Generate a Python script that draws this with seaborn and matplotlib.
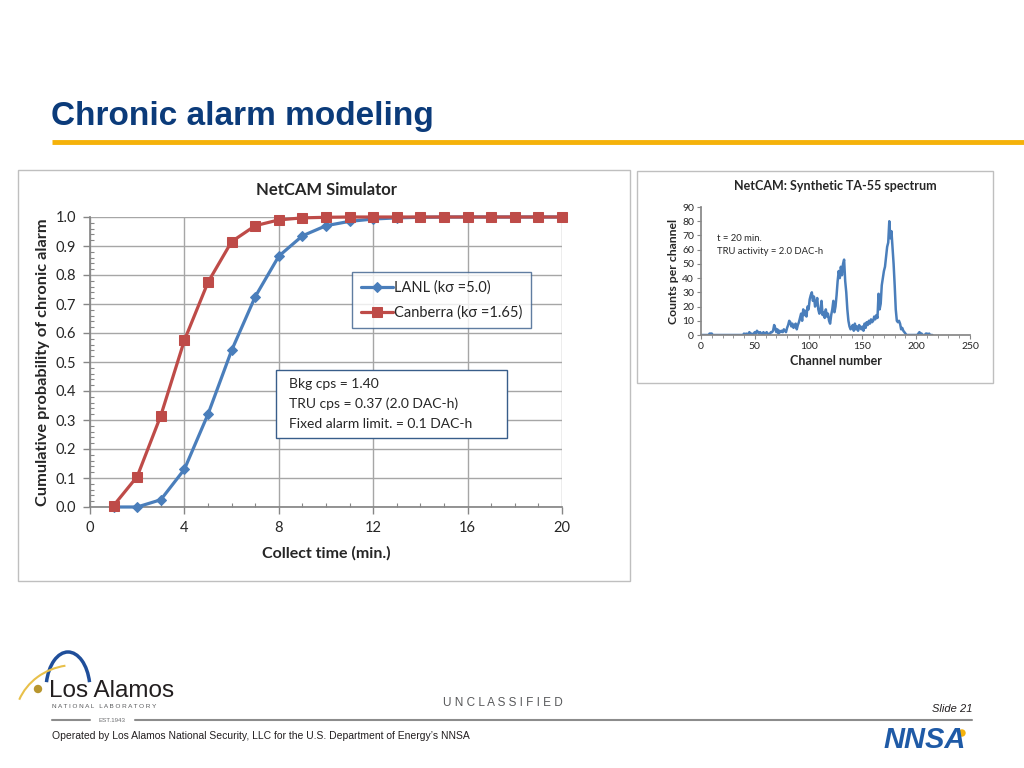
import numpy as np
import matplotlib.pyplot as plt
import matplotlib.patches as mpatches
import seaborn as sns

# collect time (min.) and cumulative probability of chronic alarm
collect_time = [1, 2, 3, 4, 5, 6, 7, 8, 9, 10, 11, 12, 13, 14, 15, 16, 17, 18, 19, 20]
lanl = [0.0, 0.0, 0.025, 0.13, 0.32, 0.54, 0.725, 0.865, 0.935, 0.97,
        0.985, 0.993, 0.997, 0.999, 1.0, 1.0, 1.0, 1.0, 1.0, 1.0]
canberra = [0.005, 0.105, 0.315, 0.575, 0.775, 0.915, 0.97, 0.99, 0.997, 0.999,
            1.0, 1.0, 1.0, 1.0, 1.0, 1.0, 1.0, 1.0, 1.0, 1.0]
x_ticks = [0, 4, 8, 12, 16, 20]
y_ticks = [0.0, 0.1, 0.2, 0.3, 0.4, 0.5, 0.6, 0.7, 0.8, 0.9, 1.0]

# synthetic spectrum, counts for channel 0, 1, 2, ...
counts = [0, 0, 0, 0, 0, 0, 0, 0, 1, 1,
          1, 0, 0, 0, 0, 0, 0, 0, 0, 0,
          0, 0, 0, 0, 0, 0, 0, 0, 0, 0,
          0, 0, 0, 0, 0, 0, 0, 0, 0, 0,
          1, 0, 1, 0, 1, 2, 0, 1, 0, 1,
          2, 1, 3, 2, 1, 2, 1, 0, 2, 1,
          1, 2, 1, 0, 1, 2, 2, 3, 7, 5,
          2, 4, 1, 3, 2, 3, 2, 4, 3, 2,
          5, 7, 10, 9, 6, 8, 5, 7, 8, 4,
          7, 9, 12, 15, 10, 18, 14, 17, 13, 20,
          18, 25, 28, 30, 24, 27, 20, 22, 26, 18,
          15, 17, 24, 14, 16, 12, 18, 13, 15, 10,
          8, 14, 18, 24, 16, 20, 28, 38, 45, 40,
          48, 42, 50, 53, 38, 30, 18, 10, 6, 4,
          5, 7, 3, 8, 4, 6, 3, 7, 5, 4,
          6, 3, 8, 5, 9, 7, 10, 8, 11, 9,
          10, 13, 11, 14, 12, 29, 18, 22, 35, 40,
          45, 48, 55, 62, 65, 80, 68, 73, 62, 50,
          35, 18, 10, 9, 10, 8, 4, 5, 3, 2,
          1, 0, 0, 0, 0, 0, 0, 0, 0, 0,
          0, 0, 1, 2, 1, 1, 0, 0, 0, 1,
          1, 0, 1, 0, 0, 0]
channels = np.arange(len(counts))

sns.set_theme(style="white")
plt.rcParams['font.family'] = ['Lato', 'DejaVu Sans']
plt.rcParams['axes.unicode_minus'] = False

W, H = 1024, 768
fig = plt.figure(figsize=(W / 100, H / 100), dpi=100)

# background layer in pixel coordinates for slide decoration
bg = fig.add_axes([0, 0, 1, 1], zorder=-1)
bg.set_xlim(0, W)
bg.set_ylim(H, 0)
bg.axis('off')

arial = ['Liberation Sans', 'DejaVu Sans']
bg.text(51, 116, 'Chronic alarm modeling', family=arial, fontsize=24, fontweight='bold',
        color='#0B3B7A', va='center', ha='left')
bg.plot([52, 1024], [142, 142], color='#F5B20A', lw=3.5, solid_capstyle='butt')

# chart frames
bg.add_patch(mpatches.Rectangle((18, 170), 612, 411, fill=False, ec='#BFBFBF', lw=1))
bg.add_patch(mpatches.Rectangle((637, 171), 356, 212, fill=False, ec='#BFBFBF', lw=1))

# footer
bg.text(503, 703, 'U N C L A S S I F I E D', family=arial, fontsize=8.5, color='#58595B',
        ha='center', va='center')
bg.text(972, 709, 'Slide 21', family=arial, fontsize=8, style='italic', color='#231F20',
        ha='right', va='center')
bg.plot([52, 90], [720, 720], color='#8C8C8C', lw=1.5)
bg.plot([135, 972], [720, 720], color='#8C8C8C', lw=1.5)
bg.text(112, 720, 'EST.1943', family=arial, fontsize=4.5, color='#6D6E71', ha='center', va='center')
bg.text(52, 736, 'Operated by Los Alamos National Security, LLC for the U.S. Department of Energy\u2019s NNSA',
        family=arial, fontsize=7.5, color='#231F20', ha='left', va='center')
bg.text(49, 691, 'Los Alamos', family=arial, fontsize=17.5, color='#231F20', ha='left', va='center')
bg.text(52, 707, 'N A T I O N A L   L A B O R A T O R Y', family=arial, fontsize=4.6,
        color='#58595B', ha='left', va='center')
bg.add_patch(mpatches.Arc((68, 690), 44, 76, theta1=-160, theta2=-20, color='#1F4E9A', lw=2.5))
bg.add_patch(mpatches.Arc((75, 720), 120, 110, theta1=-160, theta2=-100, color='#E8C04A', lw=1.5))
bg.add_patch(mpatches.Circle((38, 689), 3.5, color='#B8962E'))
bg.text(925, 740, 'NNSA', family=arial, fontsize=21, fontweight='bold', style='italic',
        color='#1F5AA6', ha='center', va='center')
bg.add_patch(mpatches.Circle((962, 733), 3, color='#F5B20A'))

# main chart
blue = '#4A7EBB'
red = '#BE4B48'
ax = fig.add_axes([90 / W, 1 - 507 / H, 472 / W, 290 / H])
sns.lineplot(x=collect_time, y=lanl, ax=ax, color=blue, lw=2.3, marker='D', markersize=5.5,
             markeredgecolor=blue, label='LANL (k\u03c3 =5.0)', clip_on=False, zorder=3)
sns.lineplot(x=collect_time, y=canberra, ax=ax, color=red, lw=2.3, marker='s', markersize=7,
             markeredgecolor=red, label='Canberra (k\u03c3 =1.65)', clip_on=False, zorder=4)
ax.set_xlim(0, 20)
ax.set_ylim(0, 1.0)
ax.set_xticks(x_ticks)
ax.set_yticks(y_ticks)
ax.set_yticklabels(['%.1f' % v for v in y_ticks])
ax.set_xticks(np.arange(0, 21, 1), minor=True)
ax.set_yticks(np.arange(0, 1.001, 0.02), minor=True)
ax.grid(True, which='major', color='#A6A6A6', lw=1)
ax.set_axisbelow(True)
for s in ['top', 'right']:
    ax.spines[s].set_visible(False)
for s in ['left', 'bottom']:
    ax.spines[s].set_color('#868686')
ax.tick_params(which='major', direction='out', length=5, color='#868686', width=1,
               labelsize=10.5, labelcolor='#262626', left=True, bottom=True, pad=5)
ax.tick_params(which='minor', direction='in', length=3, color='#868686', width=0.8,
               left=True, bottom=True)
ax.set_xlabel('Collect time (min.)', fontsize=11.5, fontweight='bold', color='#262626', labelpad=8)
ax.set_ylabel('Cumulative probability of chronic alarm', fontsize=11.8, fontweight='bold',
              color='#262626', labelpad=4)
ax.set_title('NetCAM Simulator', fontsize=12, fontweight='bold', color='#262626', pad=16)
leg = ax.legend(loc='upper left', bbox_to_anchor=(262 / 472, 235 / 290), frameon=True,
                fancybox=False, edgecolor='#385D8A', fontsize=10.5, handlelength=2.2,
                borderpad=0.6, labelspacing=0.7, handletextpad=0.1, borderaxespad=0)
leg.get_frame().set_linewidth(1)
for t in leg.get_texts():
    t.set_color('#262626')

ax.add_patch(mpatches.Rectangle((186 / 472, 69 / 290), 231 / 472, 68 / 290, transform=ax.transAxes,
                                facecolor='white', edgecolor='#385D8A', lw=1, zorder=5))
info = ['Bkg cps = 1.40', 'TRU cps = 0.37 (2.0 DAC-h)', 'Fixed alarm limit. = 0.1 DAC-h']
for i, line in enumerate(info):
    ax.text(199 / 472, (507 - 384 - 20 * i) / 290, line, transform=ax.transAxes, fontsize=10,
            color='#262626', va='center', ha='left', zorder=6)

# spectrum chart
ax2 = fig.add_axes([701 / W, 1 - 335 / H, 269 / W, 128 / H])
sns.lineplot(x=channels, y=counts, ax=ax2, color=blue, lw=1.8)
ax2.set_xlim(0, 250)
ax2.set_ylim(0, 90)
ax2.set_xticks([0, 50, 100, 150, 200, 250])
ax2.set_yticks(np.arange(0, 91, 10))
ax2.set_xticks(np.arange(0, 251, 10), minor=True)
for s in ['top', 'right']:
    ax2.spines[s].set_visible(False)
for s in ['left', 'bottom']:
    ax2.spines[s].set_color('#868686')
ax2.tick_params(which='major', direction='out', length=3, color='#868686', width=0.8,
                labelsize=7.5, labelcolor='#262626', left=True, bottom=True, pad=2)
ax2.tick_params(which='minor', direction='out', length=2, color='#868686', width=0.6, bottom=True)
ax2.set_xlabel('Channel number', fontsize=9, fontweight='bold', color='#262626', labelpad=3)
ax2.set_ylabel('Counts per channel', fontsize=8.8, fontweight='bold', color='#262626', labelpad=2)
ax2.set_title('NetCAM: Synthetic TA-55 spectrum', fontsize=9, fontweight='bold', color='#262626', pad=12)
ax2.text(16 / 269, (335 - 238) / 128, 't = 20 min.', transform=ax2.transAxes, fontsize=6.8,
         color='#262626', va='center')
ax2.text(16 / 269, (335 - 251) / 128, 'TRU activity = 2.0 DAC-h', transform=ax2.transAxes,
         fontsize=6.8, color='#262626', va='center')

fig.savefig('out.png', dpi=100)
